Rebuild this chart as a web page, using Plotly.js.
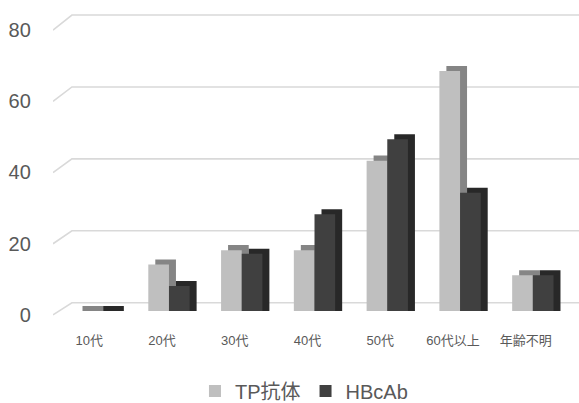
<!DOCTYPE html>
<html>
<head>
<meta charset="utf-8">
<script src="https://cdn.plot.ly/plotly-3.0.1.min.js"></script>
<style>html,body{margin:0;padding:0;background:#fff;}#chart{width:579px;height:403px;}</style>
</head>
<body>
<div id="chart"></div>
<script>
// ---- data ----
const categories = ["10代", "20代", "30代", "40代", "50代", "60代以上", "年齢不明"];
const tpValues = [0, 13, 17, 17, 42, 67, 10];
const hbcValues = [0, 7, 16, 27, 48, 33, 10];
const seriesNames = ["TP抗体", "HBcAb"];
const yTickVals = [0, 20, 40, 60, 80];

// ---- styling ----
const FONT = "Liberation Sans, Arial, 'Noto Sans CJK JP', sans-serif";
const TXT = "#595959";
const barW = 0.284;      // front face width (category units)
const depthX = 0.096;    // side depth (category units)
const depthY = 1.4;      // top depth (value units)
const gridColor = "#d9d9d9";

const traces = [];

// back-plane gridlines with perspective connector (subplot xy)
yTickVals.forEach(v => {
  traces.push({
    type: "scatter", mode: "lines", xaxis: "x", yaxis: "y",
    x: [0, 0.036, 1], y: [v * 0.99 - 3.4, v, v],
    line: {color: gridColor, width: 1.6},
    hoverinfo: "skip", showlegend: false
  });
});

function depthTrace(vals, offset, color) {
  return {
    type: "bar", xaxis: "x2", yaxis: "y2",
    x: categories, y: vals.map(v => v + depthY), base: 0,
    offset: offset + depthX, width: barW,
    marker: {color: color, line: {width: 0}},
    hoverinfo: "skip", showlegend: false
  };
}
function frontTrace(vals, offset, color, name) {
  return {
    type: "bar", xaxis: "x2", yaxis: "y2", name: name,
    x: categories, y: vals,
    offset: offset, width: barW,
    marker: {color: color, line: {width: 0}},
    hoverinfo: "skip", showlegend: true
  };
}
traces.push(depthTrace(tpValues, -barW, "#858585"));
traces.push(frontTrace(tpValues, -barW, "#bfbfbf", seriesNames[0]));
traces.push(depthTrace(hbcValues, 0, "#282828"));
traces.push(frontTrace(hbcValues, 0, "#404040", seriesNames[1]));

// label subplot (front plane)
traces.push({type: "scatter", mode: "markers", xaxis: "x3", yaxis: "y3",
  x: categories, y: categories.map(() => null), hoverinfo: "skip", showlegend: false});

const layout = {
  width: 579, height: 403,
  margin: {l: 0, r: 0, t: 0, b: 0, autoexpand: false},
  paper_bgcolor: "#ffffff", plot_bgcolor: "rgba(0,0,0,0)",
  font: {family: FONT, color: TXT},
  barmode: "overlay",
  showlegend: true,
  legend: {orientation: "h", x: 0.525, xanchor: "center", y: 0.03, yanchor: "middle",
    font: {size: 20, color: TXT, family: FONT}, bgcolor: "rgba(0,0,0,0)", traceorder: "normal"},
  xaxis: {domain: [0.0915, 1.0], range: [0, 1], visible: false, fixedrange: true},
  yaxis: {domain: [0.2042, 0.9806], range: [-5, 82], visible: false, fixedrange: true, anchor: "x"},
  xaxis2: {domain: [0.1033, 0.9831], type: "category", range: [-0.5, 6.5], visible: false, anchor: "y2"},
  yaxis2: {domain: [0.2283, 0.9390], range: [0, 80], visible: false, anchor: "x2"},
  xaxis3: {domain: [0.0912, 0.9710], type: "category", range: [-0.5, 6.5], anchor: "y3",
    showgrid: false, zeroline: false, showline: false,
    ticks: "outside", ticklen: 13, tickcolor: "rgba(0,0,0,0)",
    tickfont: {size: 13, color: TXT, family: FONT}},
  yaxis3: {domain: [0.2184, 0.9256], range: [0, 80], anchor: "x3",
    tickvals: yTickVals, ticktext: yTickVals.map(String),
    showgrid: false, zeroline: false, showline: false,
    ticks: "outside", ticklen: 17, tickcolor: "rgba(0,0,0,0)",
    tickfont: {size: 20, color: TXT, family: FONT}}
};

Plotly.newPlot("chart", traces, layout, {staticPlot: true, displayModeBar: false});
</script>
</body>
</html>
